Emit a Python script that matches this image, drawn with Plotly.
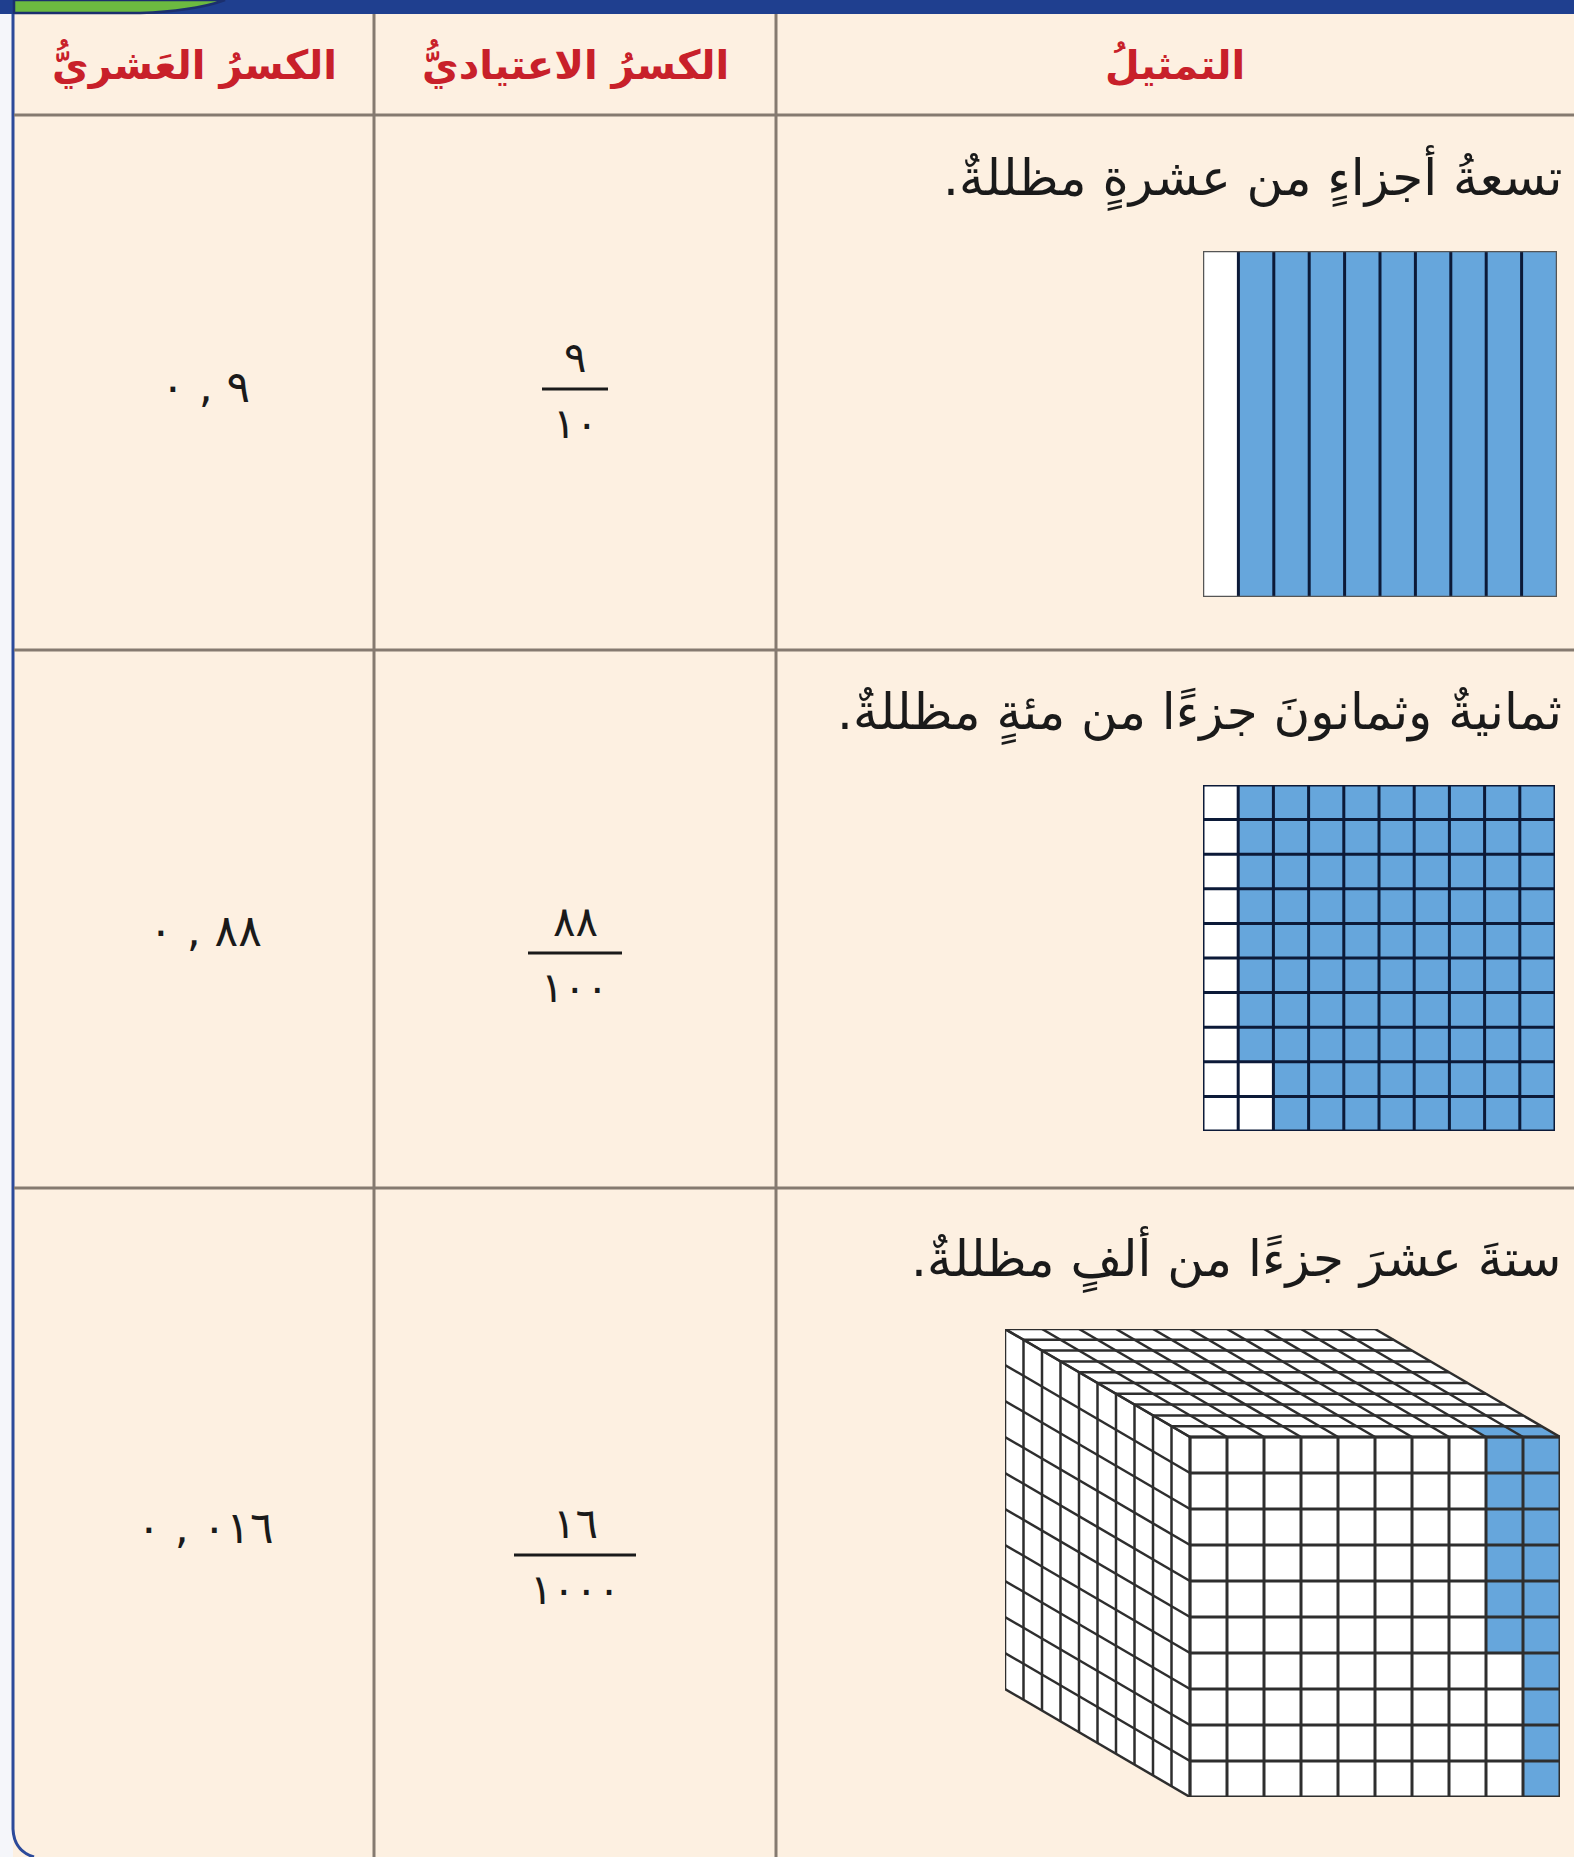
import plotly.graph_objects as go

W, H = 1574, 1857

# table content
headers = ["الكسرُ العَشريُّ", "الكسرُ الاعتياديُّ", "التمثيلُ"]
descriptions = [
    "تسعةُ أجزاءٍ من عشرةٍ مظللةٌ.",
    "ثمانيةٌ وثمانونَ جزءًا من مئةٍ مظللةٌ.",
    "ستةَ عشرَ جزءًا من ألفٍ مظللةٌ.",
]
numerators = ["٩", "٨٨", "١٦"]
denominators = ["١٠", "١٠٠", "١٠٠٠"]
decimal_int = ["٠", "٠", "٠"]
decimal_frac = ["٩", "٨٨", "٠١٦"]
shaded = [9, 88, 16]  # shaded parts of 10, 100, 1000

# colours
BG = "#fdf0e1"
RULE = "#857a70"
RED = "#c8202a"
BLUE = "#66a6dc"
NAVY = "#0c1a38"
EDGE = "#2e2e2e"

# table layout in page pixels
col_x = [14, 374, 776, W]
row_y = [14, 115, 650, 1188, H]

fig = go.Figure()
shapes = []
annotations = []


def line(x0, y0, x1, y1, color, width, ref=""):
    shapes.append(dict(type="line", x0=x0, y0=y0, x1=x1, y1=y1,
                       xref="x" + ref, yref="y" + ref,
                       line=dict(color=color, width=width)))


def rect(x0, y0, x1, y1, fill, ref="", color=None, width=0):
    shapes.append(dict(type="rect", x0=x0, y0=y0, x1=x1, y1=y1,
                       xref="x" + ref, yref="y" + ref, fillcolor=fill,
                       line=dict(color=color or fill, width=width), layer="above"))


def poly(pts, fill, ref):
    d = "M " + " L ".join(f"{x},{y}" for x, y in pts) + " Z"
    shapes.append(dict(type="path", path=d, xref="x" + ref, yref="y" + ref,
                       fillcolor=fill, line=dict(width=0), layer="above"))


def text(x, y, s, size, color="#1a1a1a", anchor="center", bold=False):
    annotations.append(dict(x=x, y=y, xref="x", yref="y", text=s, showarrow=False,
                            xanchor=anchor, yanchor="middle",
                            font=dict(family="DejaVu Sans", size=size, color=color,
                                      weight="bold" if bold else "normal")))


# page frame
rect(0, 0, 13, H, "#f5f6fa")
rect(0, 0, W, 14, "#1f3f8f")
shapes.append(dict(type="path", path="M 14,0 L 14,13 L 140,13 Q 195,11 225,0 Z",
                   xref="x", yref="y", fillcolor="#6cba40",
                   line=dict(color="#1b2f6e", width=2.5), layer="above"))
shapes.append(dict(type="path", path=f"M 13,14 L 13,{H - 28} Q 14,{H - 6} 34,{H}",
                   xref="x", yref="y", line=dict(color="#2c4a9a", width=3), layer="above"))

# table rules
for y in row_y[1:-1]:
    line(col_x[0], y, W, y, RULE, 3)
for x in col_x[1:-1]:
    line(x, row_y[0], x, H, RULE, 3)

# header
for i, h in enumerate(headers):
    text((col_x[i] + col_x[i + 1]) / 2, 64, h, 40, RED, bold=True)

# body text
dec_y = [386, 930, 1527]
frac_y = [389, 953, 1555]
desc_y = [178, 714, 1259]
for r in range(3):
    text(W - 10, desc_y[r], descriptions[r] + "\u200f", 50, anchor="right")
    text(205, dec_y[r], decimal_int[r] + "\u200e , \u200e" + decimal_frac[r], 44)
    cx = (col_x[1] + col_x[2]) / 2
    text(cx, frac_y[r] - 32, numerators[r], 42)
    text(cx, frac_y[r] + 34, denominators[r], 42)
    half = (28 * len(denominators[r]) + 10) / 2
    line(cx - half, frac_y[r], cx + half, frac_y[r], "#1a1a1a", 3)


def cell_order(n, cols=10, rows=10):
    # fill from the rightmost column, each column top to bottom
    cells = []
    for k in range(n):
        c = cols - 1 - k // rows
        r = rows - 1 - k % rows
        cells.append((c, r))
    return cells


def domain(px0, px1, py0, py1):
    return [px0 / W, px1 / W], [1 - py1 / H, 1 - py0 / H]


# tenths strip
for i in range(10):
    rect(i, 0, i + 1, 1, BLUE if i >= 10 - shaded[0] else "white", ref="2")
for i in range(1, 10):
    line(i, 0, i, 1, NAVY, 3, ref="2")
rect(0, 0, 10, 1, "rgba(0,0,0,0)", ref="2", color="#555", width=2.5)

# hundredths grid
blue100 = set(cell_order(shaded[1]))
for c in range(10):
    for r in range(10):
        rect(c, r, c + 1, r + 1, BLUE if (c, r) in blue100 else "white", ref="3")
for i in range(11):
    line(i, 0, i, 10, NAVY, 3, ref="3")
    line(0, i, 10, i, NAVY, 3, ref="3")

# thousandths cube (oblique view, depth goes up-left)
DX, DY = -0.5, 0.3
blue1000 = set(cell_order(shaded[2]))
top_blue = {c for c, r in blue1000 if r == 9}

poly([(0, 0), (10, 0), (10, 10), (0, 10)], "white", "4")
poly([(0, 10), (10, 10), (10 + 10 * DX, 10 + 10 * DY), (10 * DX, 10 + 10 * DY)], "white", "4")
poly([(0, 0), (0, 10), (10 * DX, 10 + 10 * DY), (10 * DX, 10 * DY)], "white", "4")
for c, r in blue1000:
    poly([(c, r), (c + 1, r), (c + 1, r + 1), (c, r + 1)], BLUE, "4")
for c in top_blue:
    poly([(c, 10), (c + 1, 10), (c + 1 + DX, 10 + DY), (c + DX, 10 + DY)], BLUE, "4")
for i in range(11):
    # front face
    line(i, 0, i, 10, EDGE, 3, ref="4")
    line(0, i, 10, i, EDGE, 3, ref="4")
    # top face
    line(i, 10, i + 10 * DX, 10 + 10 * DY, EDGE, 2.5, ref="4")
    line(i * DX, 10 + i * DY, 10 + i * DX, 10 + i * DY, EDGE, 2.5, ref="4")
    # left face
    line(0, i, 10 * DX, i + 10 * DY, EDGE, 2.5, ref="4")
    line(i * DX, i * DY, i * DX, 10 + i * DY, EDGE, 2.5, ref="4")

for k in ["", "2", "3", "4"]:
    fig.add_trace(go.Scatter(x=[], y=[], xaxis="x" + k, yaxis="y" + k, showlegend=False))

hidden = dict(visible=False, fixedrange=True, showgrid=False, zeroline=False)
dx2, dy2 = domain(1203, 1557, 251, 597)
dx3, dy3 = domain(1203, 1555, 785, 1131)
dx4, dy4 = domain(1005, 1560, 1329, 1797)

fig.update_layout(
    width=W, height=H, margin=dict(l=0, r=0, t=0, b=0),
    paper_bgcolor=BG, plot_bgcolor=BG, showlegend=False,
    xaxis=dict(range=[0, W], domain=[0, 1], **hidden),
    yaxis=dict(range=[H, 0], domain=[0, 1], **hidden),
    xaxis2=dict(range=[0, 10], domain=dx2, anchor="y2", **hidden),
    yaxis2=dict(range=[0, 1], domain=dy2, anchor="x2", **hidden),
    xaxis3=dict(range=[0, 10], domain=dx3, anchor="y3", **hidden),
    yaxis3=dict(range=[0, 10], domain=dy3, anchor="x3", **hidden),
    xaxis4=dict(range=[-5, 10], domain=dx4, anchor="y4", **hidden),
    yaxis4=dict(range=[0, 13], domain=dy4, anchor="x4", **hidden),
    shapes=shapes, annotations=annotations,
)

fig.write_html("out.html", config=dict(displayModeBar=False),
               post_script="document.body.style.margin='0';"
                           "document.body.style.overflow='hidden';")
